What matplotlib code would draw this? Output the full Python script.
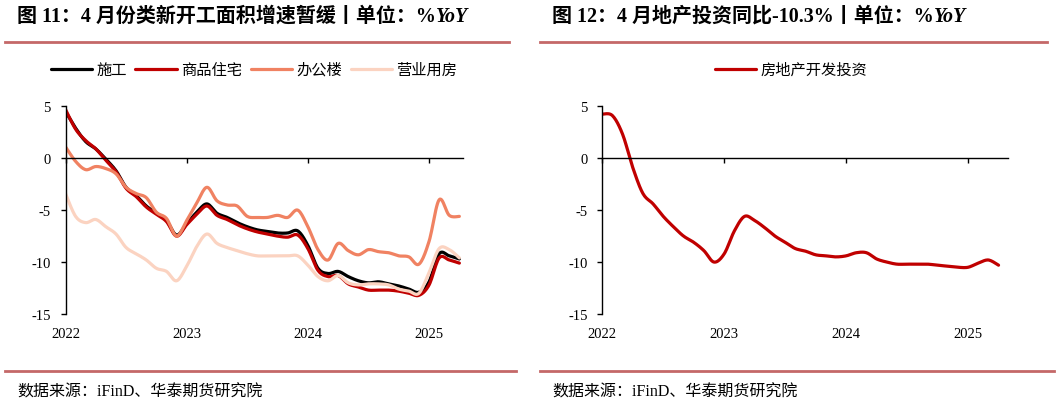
import numpy as np
import matplotlib.pyplot as plt
from matplotlib.lines import Line2D

plt.rcParams['font.family'] = ['Liberation Serif', 'Noto Sans CJK SC']
plt.rcParams['axes.unicode_minus'] = False

# ------------------------------------------------------------
# Daten (monatlich, ab Jan 2022, kumulierte YoY in %)
# ------------------------------------------------------------
year_labels = ['2022', '2023', '2024', '2025']

shigong = [4.5, 2.9, 1.6, 0.9, -0.1, -1.2, -2.8, -3.6, -4.6, -5.3,
           -6.0, -7.4, -6.3, -5.2, -4.4, -5.3, -5.7, -6.2, -6.6, -6.9,
           -7.05, -7.2, -7.2, -7.0, -8.4, -10.6, -11.1, -10.9, -11.4, -11.8,
           -12.0, -11.9, -12.1, -12.3, -12.6, -12.9, -11.9, -9.2, -9.4, -9.7]

zhuzhai = [4.7, 2.8, 1.7, 0.9, -0.2, -1.3, -2.9, -3.7, -4.7, -5.4,
           -6.1, -7.5, -6.4, -5.4, -4.6, -5.5, -5.9, -6.4, -6.8, -7.1,
           -7.3, -7.5, -7.6, -7.4, -8.7, -10.8, -11.4, -11.3, -12.1, -12.4,
           -12.7, -12.7, -12.7, -12.8, -13.0, -13.2, -12.2, -9.6, -9.8, -10.1]

bangong = [1.1, -0.3, -1.1, -0.8, -1.0, -1.5, -2.8, -3.4, -3.8, -5.2,
           -5.8, -7.5, -6.0, -4.3, -2.8, -4.1, -4.5, -4.6, -5.6, -5.7,
           -5.7, -5.5, -5.7, -5.0, -6.6, -8.8, -9.8, -8.2, -8.9, -9.3,
           -8.8, -9.0, -9.1, -9.4, -9.5, -10.2, -8.0, -4.0, -5.5, -5.6]

yingye = [-3.4, -5.6, -6.2, -5.9, -6.6, -7.3, -8.6, -9.2, -9.8, -10.6,
          -10.9, -11.8, -10.4, -8.5, -7.3, -8.2, -8.6, -8.9, -9.2, -9.4,
          -9.4, -9.4, -9.4, -9.4, -10.3, -11.4, -11.8, -11.3, -12.0, -12.2,
          -12.1, -12.1, -12.2, -12.6, -12.8, -13.0, -11.0, -8.7, -8.8, -9.6]

touzi = [4.25, 4.1, 2.3, -0.9, -3.4, -4.4, -5.6, -6.6, -7.5, -8.1,
         -8.9, -10.0, -9.2, -7.0, -5.6, -6.0, -6.7, -7.5, -8.1, -8.7,
         -8.95, -9.3, -9.4, -9.5, -9.4, -9.1, -9.1, -9.7, -10.0, -10.2,
         -10.2, -10.2, -10.2, -10.3, -10.4, -10.5, -10.5, -10.1, -9.8, -10.3]

W, H = 1057, 406
fig = plt.figure(figsize=(W / 100, H / 100), dpi=100)


def fx(px):
    return px / W


def fy(py):
    return 1 - py / H


def smooth(y, n=12):
    # geglättete Linie wie in Excel (Catmull-Rom durch die Datenpunkte)
    y = np.asarray(y, dtype=float)
    x = np.arange(len(y), dtype=float)
    p = np.concatenate([[y[0]], y, [y[-1]]])
    px = np.concatenate([[x[0]], x, [x[-1]]])
    t = np.linspace(0, 1, n, endpoint=False)
    xs, ys = [], []
    for i in range(len(y) - 1):
        for arr, out in ((px, xs), (p, ys)):
            p0, p1, p2, p3 = arr[i], arr[i + 1], arr[i + 2], arr[i + 3]
            out.append(0.5 * (2 * p1 + (-p0 + p2) * t
                              + (2 * p0 - 5 * p1 + 4 * p2 - p3) * t ** 2
                              + (-p0 + 3 * p1 - 3 * p2 + p3) * t ** 3))
    xs.append([x[-1]])
    ys.append([y[-1]])
    return np.concatenate(xs), np.concatenate(ys)


def setup_axes(ax, xmax):
    ax.set_xlim(0, xmax)
    ax.set_ylim(-15, 5)
    ax.set_yticks([-15, -10, -5, 0, 5])
    ax.spines['top'].set_visible(False)
    ax.spines['right'].set_visible(False)
    ax.spines['bottom'].set_position(('data', 0))
    ax.spines['left'].set_linewidth(1.0)
    ax.spines['bottom'].set_linewidth(1.0)
    ax.set_xticks([0, 12, 24, 36])
    ax.set_xticklabels([])
    ax.tick_params(axis='x', direction='out', length=3.5, width=1)
    ax.tick_params(axis='y', direction='out', length=3.6, width=1, pad=7,
                   labelsize=10.5)
    sec = ax.secondary_xaxis('bottom')
    sec.set_xticks([0, 12, 24, 36])
    sec.set_xticklabels(year_labels)
    sec.tick_params(length=0, pad=9.5, labelsize=10.5)
    sec.spines['bottom'].set_visible(False)
    ax.patch.set_alpha(0)


def header(x0, x1, title, legend_x, ax):
    t = fig.text(fx(x0), fy(16.5), title, fontsize=14.4, fontweight='bold',
                 va='center', ha='left')
    ax.annotate('YoY', xy=(1, 0.5), xycoords=t, va='center', ha='left',
                fontsize=14.4, fontweight='bold', fontstyle='italic',
                annotation_clip=False)
    fig.add_artist(Line2D([fx(x0 - 12), fx(x1)], [fy(42.7)] * 2,
                          color='#C46868', lw=2))
    fig.add_artist(Line2D([fx(x0 - 12), fx(x1 + 7)], [fy(371.7)] * 2,
                          color='#C46868', lw=2))
    fig.text(fx(x0), fy(393), '数据来源：iFinD、华泰期货研究院',
             fontsize=11.5, va='center', ha='left')
    ax.legend(loc='center', bbox_to_anchor=(fx(legend_x), fy(70.7)),
              bbox_transform=fig.transFigure, ncol=4, frameon=False,
              fontsize=11, handlelength=2.7, handletextpad=0.3,
              columnspacing=0.55)


# ---------------- linkes Diagramm ----------------
ax1 = fig.add_axes([fx(65.5), fy(315), fx(462.7 - 65.5), (315 - 107.3) / H])
series = [(shigong, '#000000', '施工'), (zhuzhai, '#C00000', '商品住宅'),
          (bangong, '#F08262', '办公楼'), (yingye, '#FBD3C1', '营业用房')]
for vals, col, name in series:
    sx, sy = smooth(vals)
    ax1.plot(sx, sy, color=col, lw=2.3, label=name, solid_capstyle='round')
setup_axes(ax1, 39.33)
header(17, 509, '图 11：4 月份类新开工面积增速暂缓丨单位：%', 254, ax1)

# ---------------- rechtes Diagramm ----------------
ax2 = fig.add_axes([fx(602.3), fy(315), fx(1008.3 - 602.3), (315 - 107.3) / H])
sx, sy = smooth(touzi)
ax2.plot(sx, sy, color='#C00000', lw=2.3, label='房地产开发投资',
         solid_capstyle='round')
setup_axes(ax2, 39.96)
header(552, 1047, '图 12：4 月地产投资同比-10.3%丨单位：%', 791, ax2)

fig.savefig('out.png', dpi=100)
